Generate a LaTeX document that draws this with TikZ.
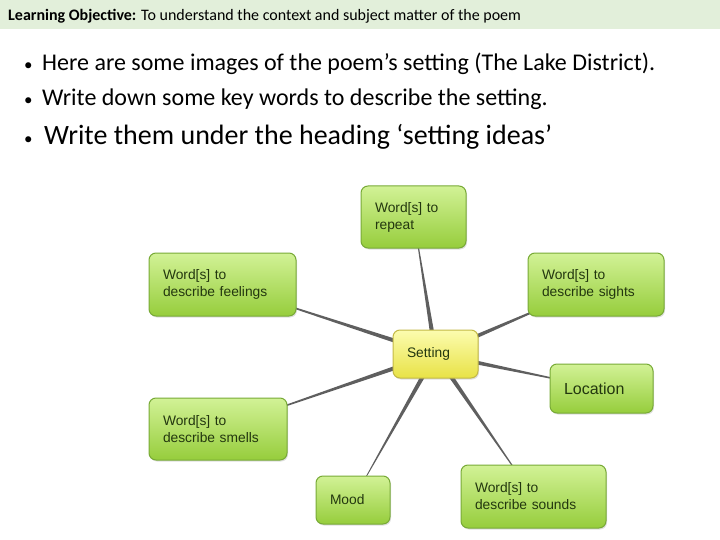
\documentclass[tikz,border=0pt]{standalone}
\usepackage{fontspec}
\setmainfont{Carlito}
\newfontfamily\boxfont{Liberation Sans}
\usetikzlibrary{shadows,backgrounds,calc}

\definecolor{bandgreen}{RGB}{226,239,218}
\definecolor{boxtop}{RGB}{210,242,150}
\definecolor{boxbot}{RGB}{150,205,60}
\definecolor{boxline}{RGB}{120,170,55}
\definecolor{settop}{RGB}{252,252,175}
\definecolor{setbot}{RGB}{232,226,70}
\definecolor{setline}{RGB}{195,185,70}
\definecolor{boxtext}{RGB}{35,55,15}
\definecolor{spokegray}{RGB}{95,95,95}
\newcommand{\dotmark}[1]{\makebox[#1][l]{\fontsize{17}{17}\selectfont\textbullet}}

\begin{document}
\begin{tikzpicture}[x=1pt,y=-1pt,
    every node/.style={font=\boxfont\fontsize{13.8}{17}\selectfont,text=boxtext},
    gbox/.style={draw=boxline,line width=1pt,top color=boxtop,bottom
      color=boxbot,rounded corners=7pt,inner xsep=14pt,align=left,
      drop shadow={opacity=0.25,shadow xshift=1pt,shadow yshift=-1.5pt}},
    ybox/.style={gbox,draw=setline,top color=settop,bottom color=setbot},
    bline/.style={anchor=base west,inner sep=0pt,text=black},
    spoke/.style={fill=spokegray}
  ]
  \useasboundingbox (0,0) rectangle (720,540);
  \fill[bandgreen] (0,0) rectangle (720,29.5);
  \node[bline,font=\fontsize{16}{19}\selectfont] (objective) at (8,20.5)
  {\textbf{Learning Objective:} To understand the context and subject matter of the poem};
  \node[bline,font=\fontsize{24}{28}\selectfont] (bulletone) at (24,71)
  {\dotmark{18pt}Here are some images of the poem’s setting (The Lake District).};
  \node[bline,font=\fontsize{24}{28}\selectfont] (bullettwo) at (24,106)
  {\dotmark{18pt}Write down some key words to describe the setting.};
  \node[bline,font=\fontsize{28}{32}\selectfont] (bulletthree) at (24,145)
  {\dotmark{20pt}Write them under the heading ‘setting ideas’};

  % mind map
  \node[ybox,text width=57pt,minimum height=48pt] (setting) at (435.5,354) {Setting};
  \node[gbox,text width=77pt,minimum height=62pt] (repeat) at (413.5,217) {Word[s] to\\repeat};
  \node[gbox,text width=119pt,minimum height=63pt] (feelings) at (222.5,284.5) {Word[s] to\\describe feelings};
  \node[gbox,text width=108pt,minimum height=63pt] (sights) at (596,284.5) {Word[s] to\\describe sights};
  \node[gbox,text width=75pt,minimum height=49pt,font=\boxfont\fontsize{16}{19}\selectfont] (location) at (601.5,388.5) {Location};
  \node[gbox,text width=110pt,minimum height=62pt] (smells) at (218,429) {Word[s] to\\describe smells};
  \node[gbox,text width=46pt,minimum height=48pt] (mood) at (353,500) {Mood};
  \node[gbox,text width=117pt,minimum height=63pt] (sounds) at (533.5,496.5) {Word[s] to\\describe sounds};

  \begin{scope}[on background layer]
    \foreach \n in {repeat,feelings,sights,location,smells,mood,sounds}
    \fill[spoke] ($(setting)!2.5pt!90:(\n)$) -- ($(setting)!2.5pt!-90:(\n)$) -- (\n.center) -- cycle;
  \end{scope}
\end{tikzpicture}
\end{document}
